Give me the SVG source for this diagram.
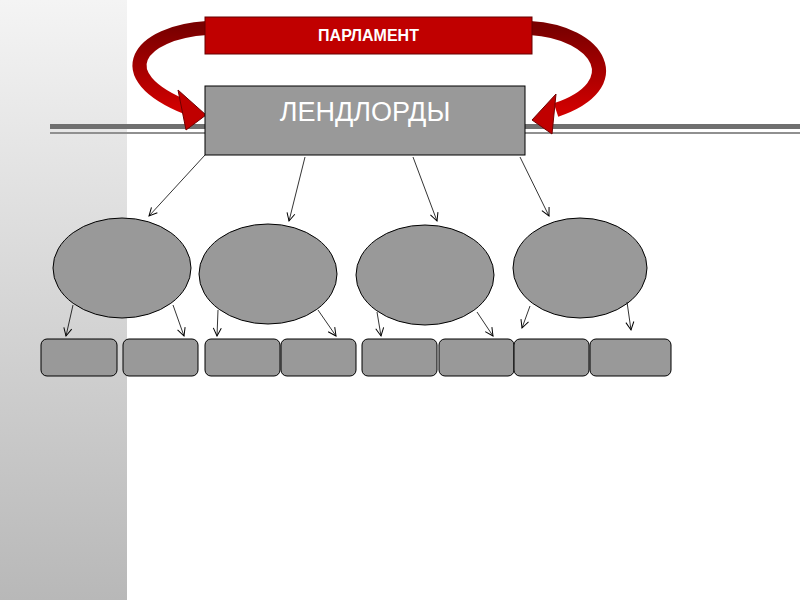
<svg xmlns="http://www.w3.org/2000/svg" width="800" height="600" viewBox="0 0 800 600">
<defs>
<linearGradient id="side" x1="0" y1="0" x2="0" y2="1"><stop offset="0" stop-color="#f4f4f4"/><stop offset="1" stop-color="#b8b8b8"/></linearGradient>
<linearGradient id="redg" x1="0" y1="0" x2="0" y2="1"><stop offset="0" stop-color="#7a0000"/><stop offset="1" stop-color="#d00000"/></linearGradient>
<marker id="ah" markerWidth="10" markerHeight="10" refX="9" refY="5" orient="auto" markerUnits="userSpaceOnUse"><path d="M1,1 L9,5 L1,9" fill="none" stroke="#000" stroke-width="1"/></marker>
<style>
.ell{fill:#999;stroke:#000;stroke-width:1}
.rb{fill:#999;stroke:#000;stroke-width:1}
.con{stroke:#000;stroke-width:0.8;fill:none;marker-end:url(#ah)}
.ra{fill:none;stroke:url(#redg);stroke-width:14}
</style>
</defs>
<rect width="800" height="600" fill="#fff"/>
<rect x="0" y="0" width="127" height="600" fill="url(#side)"/>
<rect x="50" y="124" width="750" height="5" fill="#707070"/>
<rect x="50" y="132" width="750" height="2" fill="#909090"/>
<g id="arrows-red">
<path class="ra" d="M207,28 C140,32 105,75 188,108"/>
<polygon points="178,90 206,115 186,130" fill="#c00000" stroke="#700000"/>
<path class="ra" d="M530,28 C600,32 630,85 556,110"/>
<polygon points="556,94 532,120 552,134" fill="#c00000" stroke="#700000"/>
</g>
<g id="parliament"><rect x="205" y="17" width="327" height="37" fill="#c00000" stroke="#600"/>
<text x="368.5" y="41" text-anchor="middle" font-family="Liberation Sans, Arial, sans-serif" font-weight="bold" font-size="16" fill="#fff">ПАРЛАМЕНТ</text></g>
<g id="landlords"><rect x="205" y="86" width="320" height="69" fill="#999" stroke="#000"/>
<text x="365" y="121" text-anchor="middle" font-family="Liberation Sans, Arial, sans-serif" font-size="27" fill="#fff">ЛЕНДЛОРДЫ</text></g>
<g id="e1"><ellipse class="ell" cx="122" cy="268" rx="69" ry="50"/></g>
<g id="e2"><ellipse class="ell" cx="268" cy="274" rx="69" ry="50"/></g>
<g id="e3"><ellipse class="ell" cx="425" cy="275" rx="69" ry="50"/></g>
<g id="e4"><ellipse class="ell" cx="580" cy="268" rx="67" ry="50"/></g>
<g id="r1"><rect class="rb" x="41" y="339" width="76" height="37" rx="6"/></g>
<g id="r2"><rect class="rb" x="123" y="339" width="75" height="37" rx="6"/></g>
<g id="r3"><rect class="rb" x="205" y="339" width="75" height="37" rx="6"/></g>
<g id="r4"><rect class="rb" x="281" y="339" width="75" height="37" rx="6"/></g>
<g id="r5"><rect class="rb" x="362" y="339" width="75" height="37" rx="6"/></g>
<g id="r6"><rect class="rb" x="439" y="339" width="75" height="37" rx="6"/></g>
<g id="r7"><rect class="rb" x="514" y="339" width="75" height="37" rx="6"/></g>
<g id="r8"><rect class="rb" x="590" y="339" width="81" height="37" rx="6"/></g>
<g id="connectors">
<line class="con" x1="205" y1="155" x2="149" y2="216"/>
<line class="con" x1="305" y1="157" x2="289" y2="221"/>
<line class="con" x1="413" y1="157" x2="437" y2="221"/>
<line class="con" x1="520" y1="157" x2="549" y2="216"/>
<line class="con" x1="73" y1="305" x2="66" y2="336"/>
<line class="con" x1="173" y1="305" x2="184" y2="336"/>
<line class="con" x1="218" y1="310" x2="217" y2="336"/>
<line class="con" x1="318" y1="310" x2="336" y2="336"/>
<line class="con" x1="377" y1="312" x2="381" y2="336"/>
<line class="con" x1="477" y1="312" x2="493" y2="336"/>
<line class="con" x1="530" y1="306" x2="522" y2="328"/>
<line class="con" x1="627" y1="302" x2="631" y2="330"/>
</g>
</svg>
